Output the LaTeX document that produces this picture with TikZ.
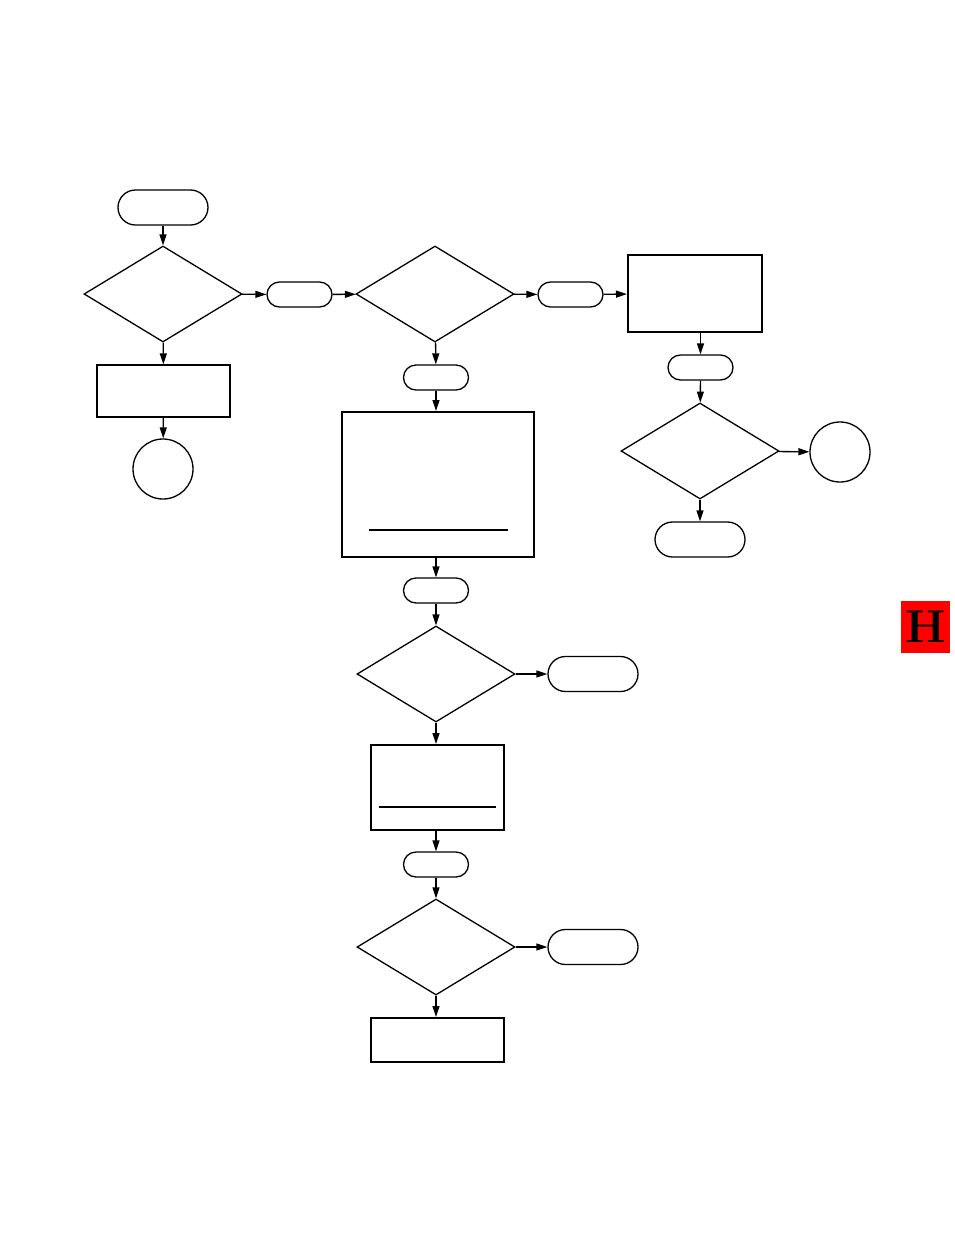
\documentclass[tikz,border=0pt]{standalone}
\usepackage{tikz}
\usetikzlibrary{shapes.geometric,shapes.misc,arrows.meta}

\begin{document}
\begin{tikzpicture}[x=1pt, y=-1pt, line width=1.3pt,
  dec/.style={draw, diamond, minimum width=158pt, minimum height=96pt, inner sep=0pt},
  term/.style={draw, rounded rectangle, minimum width=90pt, minimum height=35pt, inner sep=0pt},
  con/.style={draw, rounded rectangle, minimum width=65pt, minimum height=25pt, inner sep=0pt},
  box/.style={draw, rectangle, line width=2pt, inner sep=0pt},
  conn/.style={draw, circle, minimum size=60pt, inner sep=0pt},
  arr/.style={-{Triangle[length=11pt, width=7pt]}}]
  \useasboundingbox (0,0) rectangle (954,1235);

  % left column
  \node[term] (T1) at (163,207.5) {};
  \node[dec] (D1) at (163,294) {};
  \node[box, line width=1.3pt, minimum width=133pt, minimum height=52pt] (B1) at (163.5,391) {};
  \node[conn] (L) at (163,469) {};

  % middle column
  \node[con] (C1) at (299.5,294.5) {};
  \node[dec] (D2) at (435,294) {};
  \node[con] (C4) at (436,377.5) {};
  \node[box, minimum width=192pt, minimum height=145pt] (B2) at (438,484.5) {};
  \node[con] (C5) at (436,590.5) {};
  \node[dec] (D4) at (436,674) {};
  \node[term] (T4) at (593,674) {};
  \node[box, minimum width=133pt, minimum height=85pt] (B4) at (437.5,787.5) {};
  \node[con] (C6) at (436,864.5) {};
  \node[dec] (D5) at (436,947) {};
  \node[term] (T5) at (593,947) {};
  \node[box, minimum width=133pt, minimum height=44pt] (B5) at (437.5,1040) {};

  \draw[line width=2pt] (369,530) -- (508,530);
  \draw[line width=2pt] (379,807) -- (496,807);

  % right column
  \node[con] (C2) at (570.5,294.5) {};
  \node[box, minimum width=134pt, minimum height=77pt] (B3) at (695,293.5) {};
  \node[con] (C3) at (700.5,367.5) {};
  \node[dec] (D3) at (700,451) {};
  \node[conn] (R) at (840,452) {};
  \node[term] (T3) at (700,539.5) {};

  % tab
  \node[fill=red, minimum width=49pt, minimum height=52pt, inner sep=0pt] (H) at (925.5,627)
    {\fontsize{46}{46}\selectfont\bfseries H};

  \draw[arr] (T1) -- (D1);
  \draw[arr] (D1) -- (B1);
  \draw[arr] (B1) -- (L);
  \draw[arr] (D1) -- (C1);
  \draw[arr] (C1) -- (D2);
  \draw[arr] (D2) -- (C2);
  \draw[arr] (C2) -- (B3);
  \draw[arr] (B3.south -| C3) -- (C3);
  \draw[arr] (C3) -- (D3);
  \draw[arr] (D3) -- (R);
  \draw[arr] (D3) -- (T3);
  \draw[arr] (D2) -- (C4);
  \draw[arr] (C4) -- (C4 |- B2.north);
  \draw[arr] (B2.south -| C5) -- (C5);
  \draw[arr] (C5) -- (D4);
  \draw[arr] (D4) -- (T4);
  \draw[arr] (D4) -- (D4 |- B4.north);
  \draw[arr] (B4.south -| C6) -- (C6);
  \draw[arr] (C6) -- (D5);
  \draw[arr] (D5) -- (T5);
  \draw[arr] (D5) -- (D5 |- B5.north);
\end{tikzpicture}
\end{document}
